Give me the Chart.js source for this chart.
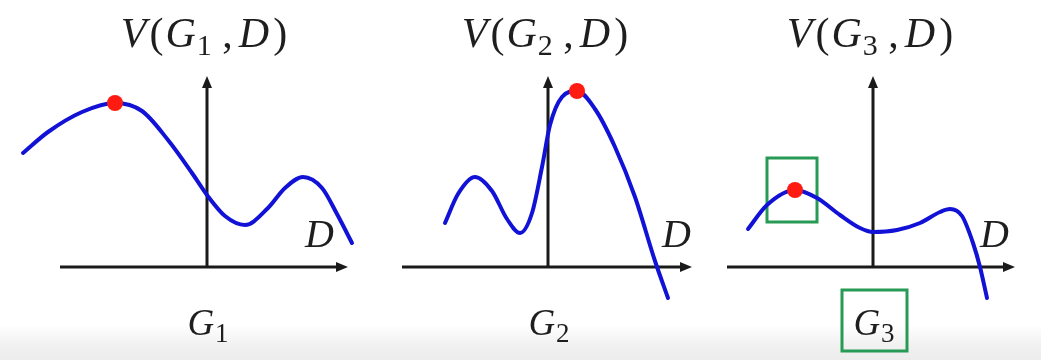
<!DOCTYPE html>
<html>
<head>
<meta charset="utf-8">
<script src="https://cdn.jsdelivr.net/npm/chart.js@4.4.0/dist/chart.umd.min.js"></script>
<style>
  html, body { margin: 0; padding: 0; }
  body {
    width: 1041px; height: 360px; overflow: hidden; position: relative;
    background: linear-gradient(to bottom, #ffffff 0px, #ffffff 325px, #f1f1f1 345px, #ececec 360px);
  }
  .panel { position: absolute; top: 0; }
</style>
</head>
<body>
<div class="sketch"></div>
<script>
// V(G, D) sketches, values are (D, V) pairs; 1 unit = 10px, origin at axis crossing
var curveG1 = [[-18.4, 11.4], [-15.9, 13.5], [-12.5, 15.5], [-9.2, 16.4], [-6.5, 15.6], [-3.9, 12.7], [-1.5, 9.4], [0, 7.2],
    [1.8, 5.1], [3.8, 4.2], [6.1, 5.9], [7.8, 7.9], [9.6, 9.0], [11.5, 7.9], [13.0, 5.3], [14.5, 2.4]];
var curveG2 = [[-10.3, 4.4], [-9.0, 7.3], [-7.3, 9.0], [-5.6, 7.6], [-4.1, 4.8], [-2.8, 3.4], [-1.6, 5.4], [-0.6, 10.0],
    [0.2, 14.2], [1.4, 17.0], [2.9, 17.6], [4.7, 15.8], [6.7, 12.0], [8.7, 7.0], [10.7, 0.6], [12.0, -3.1]];
var curveG3 = [[-12.5, 3.8], [-10.6, 6.2], [-7.8, 7.7], [-5.6, 6.9], [-3.3, 5.2], [-1.3, 3.9], [0, 3.5], [2.4, 3.7],
    [4.7, 4.4], [6.7, 5.5], [7.7, 5.8], [8.9, 5.1], [10.0, 2.4], [10.7, 0], [11.4, -3.1]];
var peakG1 = [-9.2, 16.4];
var peakG2 = [2.9, 17.6];
var peakG3 = [-7.8, 7.7];
var generators = ['1', '2', '3'];

var UNIT = 10;
var W = 380, H = 360;
var panels = [
    { curve: curveG1, peak: peakG1, left: 0, ox: 207, oy: 267, axisX: [-14.7, 14.1], axisTop: 19.1, dX: 9.8, boxes: false },
    { curve: curveG2, peak: peakG2, left: 347, ox: 548, oy: 267, axisX: [-14.6, 14.4], axisTop: 19.1, dX: 11.4, boxes: false },
    { curve: curveG3, peak: peakG3, left: 694, ox: 873, oy: 267, axisX: [-14.6, 14.2], axisTop: 19.1, dX: 10.7, boxes: true }
];

function toXY(arr) {
    return arr.map(function (p) { return { x: p[0], y: p[1] }; });
}

// runs: [text, kind, gapAfter]; kind i = italic, r = roman, s = subscript
function mathText(ctx, runs, x, y, size, align) {
    var fam = '"Liberation Serif", serif';
    function font(kind) {
        if (kind === 'i') return 'italic ' + size + 'px ' + fam;
        if (kind === 's') return Math.round(size * 0.72) + 'px ' + fam;
        return size + 'px ' + fam;
    }
    var total = 0;
    runs.forEach(function (r) { ctx.font = font(r[1]); total += ctx.measureText(r[0]).width + (r[2] || 0); });
    var cx = align === 'left' ? x : x - total / 2;
    ctx.fillStyle = '#1e1e1e';
    ctx.textBaseline = 'alphabetic';
    ctx.textAlign = 'left';
    runs.forEach(function (r) {
        ctx.font = font(r[1]);
        ctx.fillText(r[0], cx, r[1] === 's' ? y + size * 0.2 : y);
        cx += ctx.measureText(r[0]).width + (r[2] || 0);
    });
}

var sketchPlugin = {
    id: 'sketch',
    beforeDatasetsDraw: function (chart, args, opts) {
        var ctx = chart.ctx, xs = chart.scales.x, ys = chart.scales.y;
        var x0 = xs.getPixelForValue(0), y0 = ys.getPixelForValue(0);
        var xa = xs.getPixelForValue(opts.axisX[0]), xb = xs.getPixelForValue(opts.axisX[1]);
        var yt = ys.getPixelForValue(opts.axisTop);
        ctx.save();
        ctx.strokeStyle = '#1a1a1a';
        ctx.fillStyle = '#1a1a1a';
        ctx.lineWidth = 3;
        ctx.beginPath();
        ctx.moveTo(xa, y0); ctx.lineTo(xb - 8, y0);
        ctx.moveTo(x0, y0 + 1); ctx.lineTo(x0, yt + 8);
        ctx.stroke();
        // arrow heads
        ctx.beginPath();
        ctx.moveTo(xb, y0); ctx.lineTo(xb - 12, y0 - 5); ctx.lineTo(xb - 12, y0 + 5); ctx.closePath();
        ctx.moveTo(x0, yt); ctx.lineTo(x0 - 5, yt + 12); ctx.lineTo(x0 + 5, yt + 12); ctx.closePath();
        ctx.fill();

        var g = opts.gen;
        mathText(ctx, [['V', 'i', 3], ['(', 'r', 2], ['G', 'i', 1], [g, 's', 0], [' ,', 'r', 6], ['D', 'i', 4], [')', 'r', 0]],
            x0 - 3, ys.getPixelForValue(22.0), 42, 'center');
        mathText(ctx, [['G', 'i', 1], [g, 's', 0]], x0 + 1, ys.getPixelForValue(-6.8), 37, 'center');
        mathText(ctx, [['D', 'i', 0]], xs.getPixelForValue(opts.dX), ys.getPixelForValue(2.0), 40, 'left');

        if (opts.boxes) {
            ctx.strokeStyle = '#279a55';
            ctx.lineWidth = 3;
            var bx = xs.getPixelForValue(-10.6), by = ys.getPixelForValue(10.9);
            ctx.strokeRect(bx, by, xs.getPixelForValue(-5.6) - bx, ys.getPixelForValue(4.5) - by);
            bx = xs.getPixelForValue(-3.1); by = ys.getPixelForValue(-2.3);
            ctx.strokeRect(bx, by, xs.getPixelForValue(3.4) - bx, ys.getPixelForValue(-8.4) - by);
        }
        ctx.restore();
    }
};

function createConfig(p, i) {
    return {
        type: 'scatter',
        data: {
            datasets: [{
                data: toXY([p.peak]),
                backgroundColor: '#ff1a12',
                borderWidth: 0,
                pointRadius: 8
            }, {
                data: toXY(p.curve),
                showLine: true,
                borderColor: '#1212d6',
                borderWidth: 4,
                pointRadius: 0,
                cubicInterpolationMode: 'monotone',
                borderCapStyle: 'round',
                borderJoinStyle: 'round'
            }]
        },
        options: {
            responsive: false,
            animation: false,
            events: [],
            layout: { padding: 0, autoPadding: false },
            plugins: {
                legend: { display: false },
                tooltip: { enabled: false },
                sketch: { axisX: p.axisX, axisTop: p.axisTop, dX: p.dX, boxes: p.boxes, gen: generators[i] }
            },
            scales: {
                x: { type: 'linear', display: false, min: -(p.ox - p.left) / UNIT, max: (p.left + W - p.ox) / UNIT },
                y: { type: 'linear', display: false, min: -(H - p.oy) / UNIT, max: p.oy / UNIT }
            }
        },
        plugins: [sketchPlugin]
    };
}

window.onload = function () {
    var container = document.querySelector('.sketch');
    panels.forEach(function (p, i) {
        var canvas = document.createElement('canvas');
        canvas.className = 'panel';
        canvas.width = W;
        canvas.height = H;
        canvas.style.left = p.left + 'px';
        canvas.style.width = W + 'px';
        canvas.style.height = H + 'px';
        container.appendChild(canvas);
        new Chart(canvas.getContext('2d'), createConfig(p, i));
    });
};
</script>
</body>
</html>
